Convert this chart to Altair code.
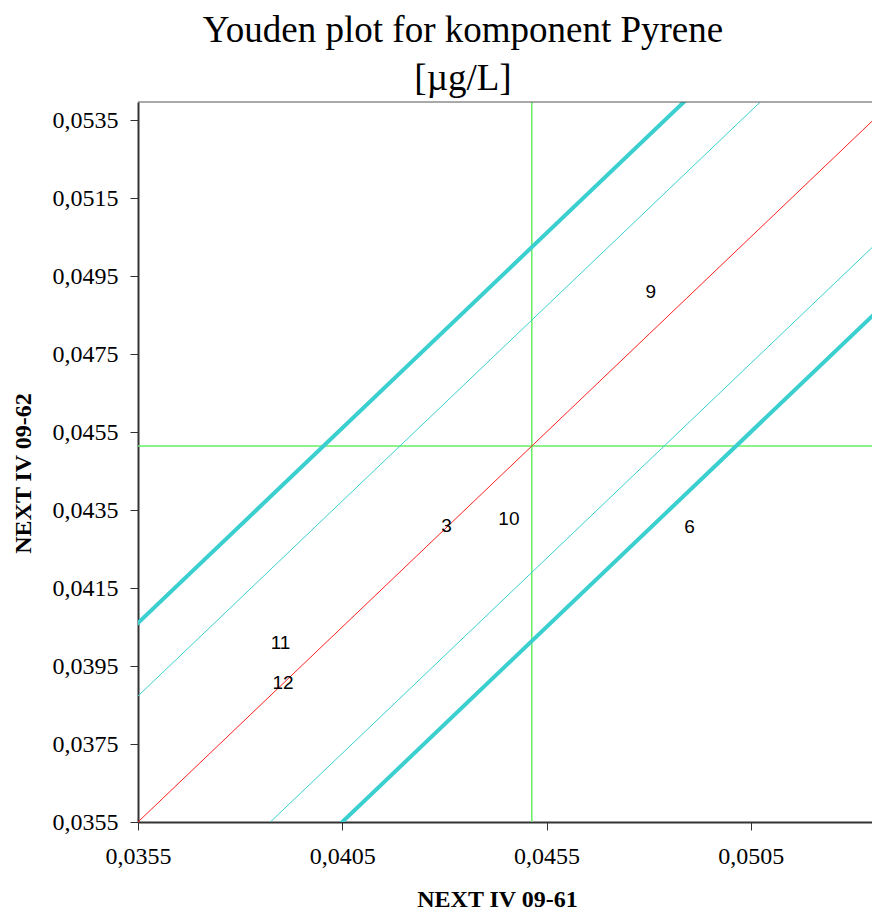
import altair as alt
import pandas as pd

# Reference lines: y = x + offset
line_names = ["upper_thick", "upper_thin", "center", "lower_thin", "lower_thick"]
line_offsets = [0.0051, 0.00323, 0.0, -0.00324, -0.0050]
line_x_ends = [0.030, 0.060]

# Median / assigned value crosshair
center_x = 0.04514
center_y = 0.04514

# Laboratory results (labels only)
lab_ids = ["3", "10", "6", "9", "11", "12"]
lab_x = [0.04305, 0.04458, 0.04900, 0.04805, 0.03899, 0.03905]
lab_y = [0.04309, 0.04328, 0.04307, 0.04909, 0.04010, 0.03907]

x_ticks = [0.0355, 0.0405, 0.0455, 0.0505]
y_ticks = [0.0355, 0.0375, 0.0395, 0.0415, 0.0435, 0.0455, 0.0475, 0.0495, 0.0515, 0.0535]

x_domain = [0.0355, 0.053468]
y_domain = [0.0355, 0.053962]

line_colors = {"upper_thick": "#3ccfcf", "upper_thin": "#3ccfcf", "center": "#ff2020",
               "lower_thin": "#3ccfcf", "lower_thick": "#3ccfcf"}
line_widths = {"upper_thick": 4, "upper_thin": 1, "center": 1,
               "lower_thin": 1, "lower_thick": 4}

rows = []
for name, off in zip(line_names, line_offsets):
    for xe in line_x_ends:
        rows.append({"line": name, "x": xe, "y": xe + off,
                     "color": line_colors[name], "w": line_widths[name]})
lines_df = pd.DataFrame(rows)
labs_df = pd.DataFrame({"id": lab_ids, "x": lab_x, "y": lab_y})

label_expr = "replace(format(datum.value, '.4f'), '.', ',')"

xscale = alt.Scale(domain=x_domain, nice=False, zero=False)
yscale = alt.Scale(domain=y_domain, nice=False, zero=False)

xaxis = alt.Axis(values=x_ticks, labelExpr=label_expr, grid=False,
                 title="NEXT IV 09-61", titleFont="Liberation Serif", titleFontSize=24,
                 titleFontWeight="bold", titleColor="black",
                 titleX=359, titleY=84, titleBaseline="alphabetic", titleAnchor="start",
                 titleAlign="center",
                 labelFont="Liberation Serif", labelFontSize=24, labelColor="black",
                 labelPadding=14, tickSize=8, tickColor="#333333", domainColor="#333333",
                 domainWidth=2, labelFlush=False, labelOverlap=False)
yaxis = alt.Axis(values=y_ticks, labelExpr=label_expr, grid=False,
                 title="NEXT IV 09-62", titleFont="Liberation Serif", titleFontSize=24,
                 titleFontWeight="bold", titleColor="black", titleAngle=270,
                 titleX=-115, titleY=371, titleAlign="center", titleBaseline="middle",
                 titleAnchor="start",
                 labelFont="Liberation Serif", labelFontSize=24, labelColor="black",
                 labelPadding=12, tickSize=8, tickColor="#333333", domainColor="#333333",
                 domainWidth=2, labelFlush=False, labelOverlap=False)

base_x = alt.X("x:Q", scale=xscale, axis=xaxis)
base_y = alt.Y("y:Q", scale=yscale, axis=yaxis)

lines = alt.Chart(lines_df).mark_line(clip=True).encode(
    x=base_x, y=base_y, detail="line:N",
    color=alt.Color("color:N", scale=None),
    strokeWidth=alt.StrokeWidth("w:Q", scale=None),
)

vrule = alt.Chart(pd.DataFrame({"x": [center_x]})).mark_rule(
    color="#66ee66", strokeWidth=1.5, clip=True).encode(x=alt.X("x:Q", scale=xscale))
hrule = alt.Chart(pd.DataFrame({"y": [center_y]})).mark_rule(
    color="#66ee66", strokeWidth=1.5, clip=True).encode(y=alt.Y("y:Q", scale=yscale))

# top frame line of the plot area (right frame edge lies outside the visible page)
top_frame = alt.Chart(pd.DataFrame({"k": [0]})).mark_rule(
    color="#555555", strokeWidth=1).encode(
    x=alt.value(0), x2=alt.value(734), y=alt.value(0))

labels = alt.Chart(labs_df).mark_text(
    font="Liberation Sans", fontSize=19, color="black", align="center", baseline="middle"
).encode(x=alt.X("x:Q", scale=xscale), y=alt.Y("y:Q", scale=yscale), text="id:N")

chart = alt.layer(hrule, vrule, lines, labels, top_frame).properties(
    width=734, height=720,
    autosize=alt.AutoSizeParams(type="none"),
    padding={"left": 130, "top": 94, "right": 0, "bottom": 92},
    title=alt.TitleParams(
        text=["Youden plot for komponent Pyrene", "[µg/L]"],
        font="Liberation Serif", fontSize=37, fontWeight="normal", color="black",
        anchor="middle", frame="group", dx=-42, offset=4, lineHeight=48,
    ),
).configure_view(stroke=None)

chart.save("out.html", embed_options={"renderer": "svg", "actions": False})
